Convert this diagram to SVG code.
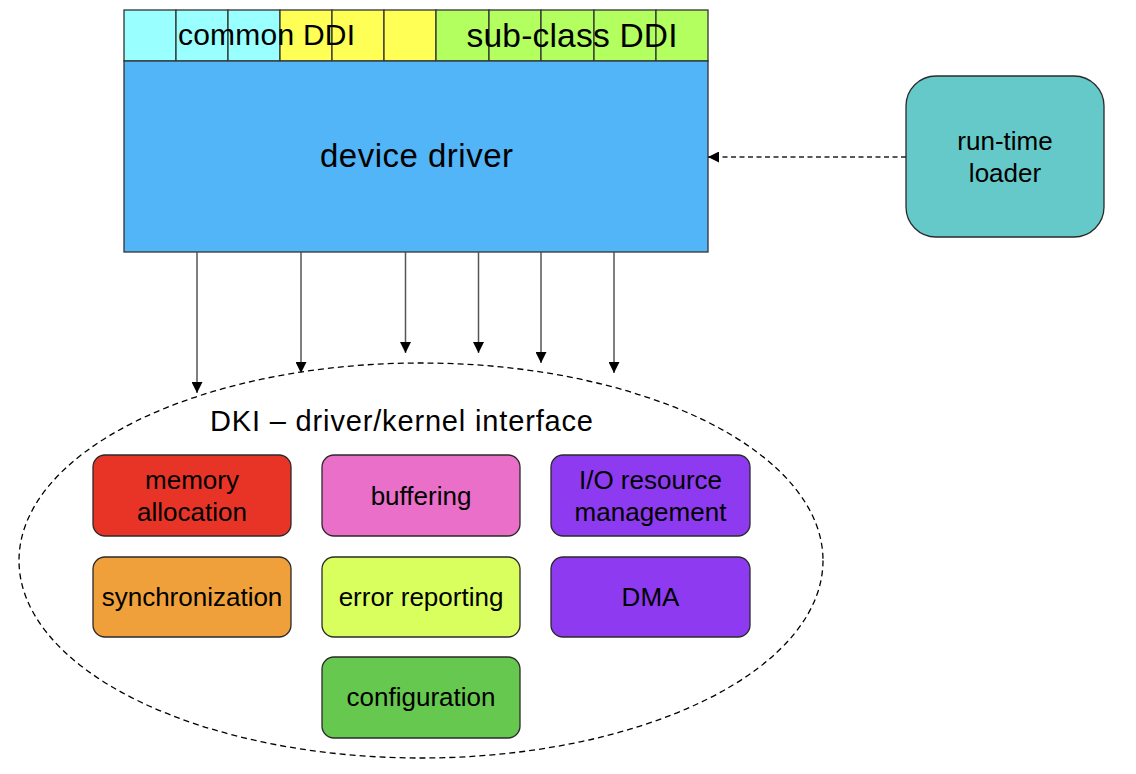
<svg xmlns="http://www.w3.org/2000/svg" width="1136" height="774" viewBox="0 0 1136 774">
<style>
text{font-family:"Liberation Sans",Arial,Helvetica,sans-serif;fill:#000}
.cell{stroke:#333;stroke-width:1.3}
.box{stroke:#2a2a2a;stroke-width:1.3}
.bt{font-size:26px;text-anchor:middle}
.arr{stroke:#555;stroke-width:1.5;fill:none;marker-end:url(#ah)}
</style>
<defs>
<marker id="ah" viewBox="0 0 10 10" refX="10" refY="5" markerWidth="11" markerHeight="11" markerUnits="userSpaceOnUse" orient="auto">
<path d="M0,0 L10,5 L0,10 z" fill="#000"/>
</marker>
</defs>
<rect width="1136" height="774" fill="#fff"/>

<g id="ddi-bar">
<rect class="cell" x="124" y="10" width="52" height="51" fill="#99FFFF"/>
<rect class="cell" x="176" y="10" width="52" height="51" fill="#99FFFF"/>
<rect class="cell" x="228" y="10" width="52" height="51" fill="#99FFFF"/>
<rect class="cell" x="280" y="10" width="52" height="51" fill="#FFFF55"/>
<rect class="cell" x="332" y="10" width="52" height="51" fill="#FFFF55"/>
<rect class="cell" x="384" y="10" width="52" height="51" fill="#FFFF55"/>
<rect class="cell" x="436" y="10" width="53" height="51" fill="#B2FF5F"/>
<rect class="cell" x="489" y="10" width="52" height="51" fill="#B2FF5F"/>
<rect class="cell" x="541" y="10" width="53" height="51" fill="#B2FF5F"/>
<rect class="cell" x="594" y="10" width="62" height="51" fill="#B2FF5F"/>
<rect class="cell" x="656" y="10" width="52" height="51" fill="#B2FF5F"/>
<text x="178" y="45" font-size="30" textLength="177" lengthAdjust="spacing">common DDI</text>
<text x="466.5" y="47" font-size="33.5" textLength="211" lengthAdjust="spacing">sub-class DDI</text>
</g>

<g id="device-driver">
<rect x="124" y="61" width="584" height="191" fill="#52B5F7" stroke="#333" stroke-width="1.3"/>
<text x="416.5" y="167" font-size="33" text-anchor="middle" textLength="193" lengthAdjust="spacing">device driver</text>
</g>

<g id="run-time-loader">
<rect class="box" x="906" y="76" width="198" height="161" rx="30" fill="#66C9C9"/>
<text class="bt" x="1005" y="150">run-time</text>
<text class="bt" x="1005" y="182">loader</text>
</g>

<g id="dki">
<ellipse cx="421" cy="560.5" rx="402" ry="197.5" fill="none" stroke="#000" stroke-width="1.3" stroke-dasharray="6,4"/>
<text x="210" y="431" font-size="29" textLength="383" lengthAdjust="spacing">DKI – driver/kernel interface</text>
</g>

<g id="memory-allocation">
<rect class="box" x="93" y="455" width="198" height="81" rx="12" fill="#E83426"/>
<text class="bt" x="192" y="489">memory</text>
<text class="bt" x="192" y="521">allocation</text>
</g>
<g id="buffering">
<rect class="box" x="322" y="455" width="198" height="81" rx="12" fill="#EA6FC9"/>
<text class="bt" x="421" y="505">buffering</text>
</g>
<g id="io-resource-management">
<rect class="box" x="551" y="455" width="199" height="81" rx="12" fill="#8E3AF0"/>
<text class="bt" x="650.5" y="489">I/O resource</text>
<text class="bt" x="650.5" y="521">management</text>
</g>
<g id="synchronization">
<rect class="box" x="93" y="557" width="198" height="80" rx="12" fill="#F0A03A"/>
<text class="bt" x="192" y="605.5">synchronization</text>
</g>
<g id="error-reporting">
<rect class="box" x="322" y="557" width="198" height="80" rx="12" fill="#D9FF5E"/>
<text class="bt" x="421" y="605.5">error reporting</text>
</g>
<g id="dma">
<rect class="box" x="551" y="557" width="199" height="80" rx="12" fill="#8E3AF0"/>
<text class="bt" x="650.5" y="605.5">DMA</text>
</g>
<g id="configuration">
<rect class="box" x="322" y="657" width="198" height="81" rx="12" fill="#66C84E"/>
<text class="bt" x="421" y="706">configuration</text>
</g>

<g id="connectors">
<line class="arr" x1="197" y1="252" x2="197" y2="393"/>
<line class="arr" x1="301" y1="252" x2="301" y2="373"/>
<line class="arr" x1="405.5" y1="252" x2="405.5" y2="353"/>
<line class="arr" x1="478.5" y1="252" x2="478.5" y2="353"/>
<line class="arr" x1="541" y1="252" x2="541" y2="363"/>
<line class="arr" x1="614" y1="252" x2="614" y2="373"/>
<line x1="906" y1="157" x2="708" y2="157" stroke="#222" stroke-width="1.4" stroke-dasharray="5,3.5" marker-end="url(#ah)"/>
</g>
</svg>
